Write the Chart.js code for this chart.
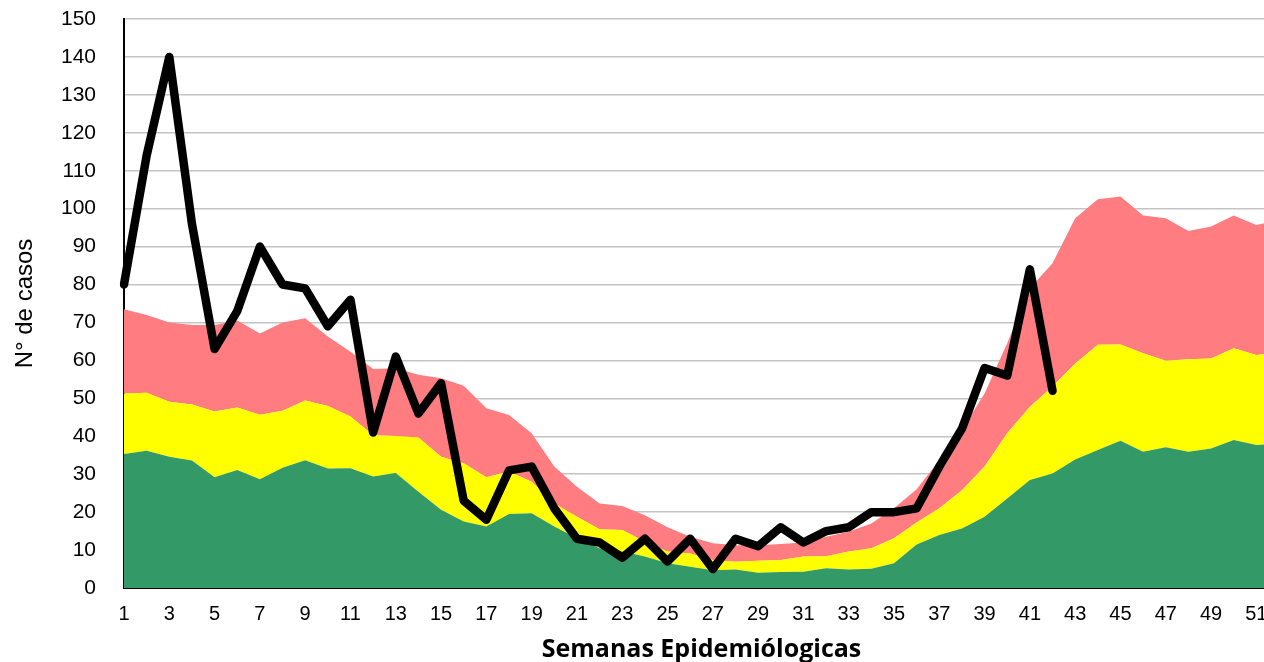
<!DOCTYPE html>
<html>
<head>
<meta charset="utf-8">
<script src="https://cdn.jsdelivr.net/npm/chart.js@4"></script>
<style>
  html, body { margin: 0; padding: 0; background: #fff; overflow: hidden; }
</style>
</head>
<body>
<canvas id="canal" width="1290" height="662"></canvas>
<script>
// Semanas epidemiológicas 1..52
const semanas = Array.from({ length: 52 }, (_, i) => String(i + 1));

// Límites superiores de cada zona del canal endémico
const zonaExito = [35.3, 36.2, 34.6, 33.6, 29.2, 31.1, 28.7, 31.7, 33.7, 31.5, 31.6, 29.4, 30.3,
    25.4, 20.6, 17.5, 16.2, 19.5, 19.7, 16.2, 13.1, 10.5, 9.6, 8.3, 6.5, 5.6, 4.7, 4.9, 4.0, 4.2,
    4.3, 5.2, 4.9, 5.1, 6.5, 11.5, 14.0, 15.7, 18.8, 23.6, 28.5, 30.2, 33.9, 36.4, 38.8, 35.9,
    37.1, 35.9, 36.8, 39.0, 37.7, 38.0];
const zonaSeguridad = [51.3, 51.5, 49.1, 48.4, 46.5, 47.6, 45.7, 46.7, 49.4, 48.0, 45.2, 40.3, 40.1,
    39.7, 34.6, 32.9, 29.2, 30.7, 28.0, 22.3, 18.8, 15.5, 15.3, 12.2, 9.6, 9.1, 7.4, 6.9, 7.2, 7.4,
    8.3, 8.4, 9.6, 10.5, 13.1, 17.3, 21.0, 25.8, 32.0, 40.8, 47.8, 53.1, 59.2, 64.1, 64.2, 61.9,
    59.9, 60.3, 60.5, 63.2, 61.4, 62.0];
const zonaAlerta = [73.5, 72.0, 70.0, 69.3, 69.3, 70.5, 67.1, 70.0, 71.1, 66.3, 62.3, 57.7, 57.9,
    56.2, 55.3, 53.3, 47.4, 45.6, 40.8, 32.0, 26.7, 22.3, 21.6, 19.2, 16.0, 13.5, 11.8, 11.3, 11.3,
    11.6, 12.0, 13.5, 14.8, 17.0, 21.0, 26.0, 33.7, 41.7, 51.3, 64.5, 79.0, 85.6, 97.5, 102.5,
    103.2, 98.2, 97.5, 94.1, 95.3, 98.2, 95.7, 97.0];

// Casos notificados del año en curso (hasta la semana 42)
const casos = [80, 114, 140, 96, 63, 73, 90, 80, 79, 69, 76, 41, 61, 46, 54, 23, 18, 31, 32, 21,
    13, 12, 8, 13, 7, 13, 5, 13, 11, 16, 12, 15, 16, 20, 20, 21, 32, 42, 58, 56, 84, 52];

const ticksY = [0, 10, 20, 30, 40, 50, 60, 70, 80, 90, 100, 110, 120, 130, 140, 150];

const ctx = document.getElementById('canal').getContext('2d');

new Chart(ctx, {
    type: 'line',
    data: {
        labels: semanas,
        datasets: [
            {
                label: 'Casos',
                data: casos,
                borderColor: '#000000',
                borderWidth: 8.5,
                borderCapStyle: 'round',
                borderJoinStyle: 'round',
                pointRadius: 0,
                fill: false,
                tension: 0
            },
            {
                label: 'Éxito',
                data: zonaExito,
                borderWidth: 0,
                pointRadius: 0,
                backgroundColor: '#339966',
                fill: 'origin',
                tension: 0
            },
            {
                label: 'Seguridad',
                data: zonaSeguridad,
                borderWidth: 0,
                pointRadius: 0,
                backgroundColor: '#ffff00',
                fill: '-1',
                tension: 0
            },
            {
                label: 'Alerta',
                data: zonaAlerta,
                borderWidth: 0,
                pointRadius: 0,
                backgroundColor: '#ff7c80',
                fill: '-1',
                tension: 0
            }
        ]
    },
    options: {
        responsive: false,
        animation: false,
        layout: { padding: { top: 19, left: 0, right: 11, bottom: 0 } },
        plugins: {
            legend: { display: false },
            tooltip: { enabled: false }
        },
        scales: {
            x: {
                offset: false,
                grid: { display: false, drawTicks: false },
                border: { display: true, color: '#000000', width: 2 },
                ticks: {
                    autoSkip: false,
                    maxRotation: 0,
                    padding: 14,
                    color: '#000000',
                    font: { family: '"Liberation Sans", Arial', size: 20 },
                    callback: (v, i) => (i % 2 === 0 ? semanas[i] : '')
                },
                title: {
                    display: true,
                    text: 'Semanas Epidemiólogicas',
                    color: '#000000',
                    padding: { top: 0, bottom: 0 },
                    font: { family: '"Open Sans"', weight: 'bold', size: 25, lineHeight: 1 }
                },
                // alto fijo del eje y sin margen lateral extra por las etiquetas
                afterFit: s => { s.height = 74; s.paddingLeft = 0; s.paddingRight = 0; }
            },
            y: {
                min: 0,
                max: 150,
                afterBuildTicks: s => { s.ticks = ticksY.map(v => ({ value: v })); },
                grid: { color: '#c4c4c4', lineWidth: 1.5, drawTicks: false },
                border: { display: true, color: '#000000', width: 2 },
                ticks: {
                    padding: 28,
                    color: '#000000',
                    font: { family: '"Liberation Sans", Arial', size: 21 }
                },
                title: {
                    display: true,
                    text: 'N° de casos',
                    color: '#000000',
                    padding: { top: 13, bottom: 0 },
                    font: { family: '"Liberation Sans", Arial', size: 24, lineHeight: 1 }
                },
                afterFit: s => { s.width = 124; s.paddingTop = 0; s.paddingBottom = 0; }
            }
        }
    }
});
</script>
</body>
</html>
